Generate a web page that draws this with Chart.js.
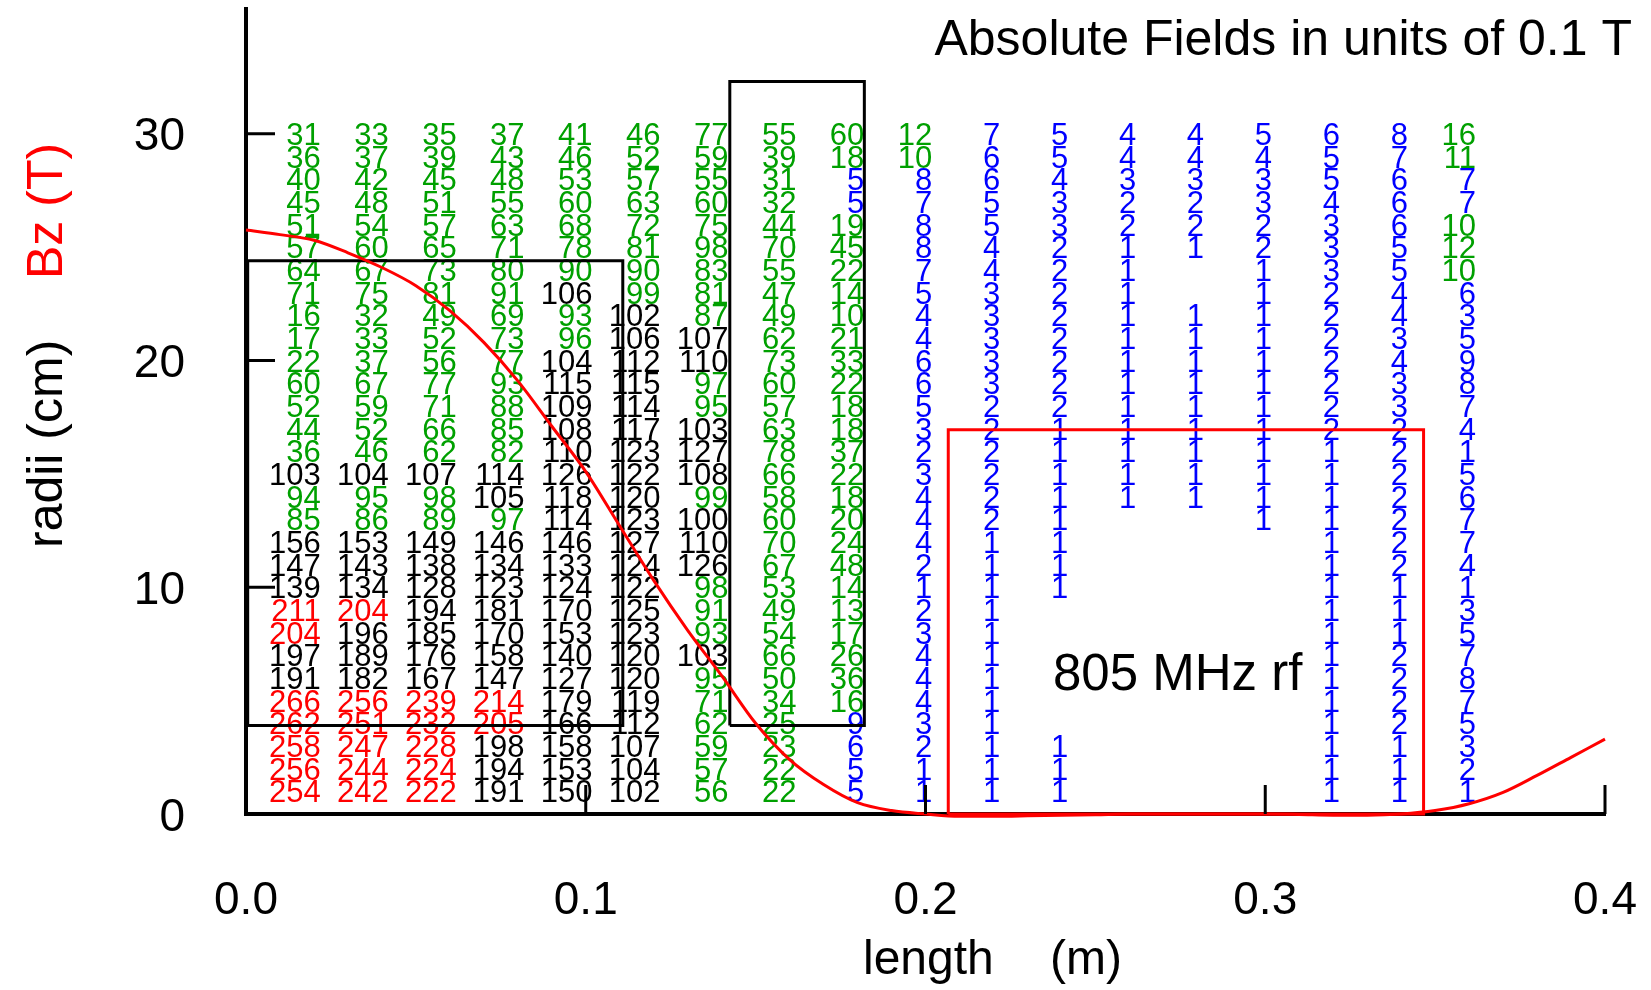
<!DOCTYPE html>
<html>
<head>
<meta charset="utf-8">
<script src="https://cdn.jsdelivr.net/npm/chart.js@4/dist/chart.umd.min.js"></script>
<style>
  html, body { margin: 0; padding: 0; background: #fff; }
  #c { display: block; }
</style>
</head>
<body>
<canvas id="c" width="1651" height="990"></canvas>
<script>
// ---------- data ----------
// length positions (m) at which each column of numbers ends (right edge of text)
const columnLengths = [0.022, 0.042, 0.062, 0.082, 0.102, 0.122, 0.142, 0.162, 0.182,
                       0.202, 0.222, 0.242, 0.262, 0.282, 0.302, 0.322, 0.342, 0.362];
// radii (cm) of each row of numbers
const rowRadii = [30, 29, 28, 27, 26, 25, 24, 23, 22, 21, 20, 19, 18, 17, 16,
                  15, 14, 13, 12, 11, 10, 9, 8, 7, 6, 5, 4, 3, 2, 1];
// absolute field values (units of 0.1 T), one array per row, top (r=30) to bottom (r=1)
const fieldRows = [
  [31,33,35,37,41,46,77,55,60,12,7,5,4,4,5,6,8,16],
  [36,37,39,43,46,52,59,39,18,10,6,5,4,4,4,5,7,11],
  [40,42,45,48,53,57,55,31,5,8,6,4,3,3,3,5,6,7],
  [45,48,51,55,60,63,60,32,5,7,5,3,2,2,3,4,6,7],
  [51,54,57,63,68,72,75,44,19,8,5,3,2,2,2,3,6,10],
  [57,60,65,71,78,81,98,70,45,8,4,2,1,1,2,3,5,12],
  [64,67,73,80,90,90,83,55,22,7,4,2,1,null,1,3,5,10],
  [71,75,81,91,106,99,81,47,14,5,3,2,1,null,1,2,4,6],
  [16,32,49,69,93,102,87,49,10,4,3,2,1,1,1,2,4,3],
  [17,33,52,73,96,106,107,62,21,4,3,2,1,1,1,2,3,5],
  [22,37,56,77,104,112,110,73,33,6,3,2,1,1,1,2,4,9],
  [60,67,77,93,115,115,97,60,22,6,3,2,1,1,1,2,3,8],
  [52,59,71,88,109,114,95,57,18,5,2,2,1,1,1,2,3,7],
  [44,52,66,85,108,117,103,63,18,3,2,1,1,1,1,2,2,4],
  [36,46,62,82,110,123,127,78,37,2,2,1,1,1,1,1,2,1],
  [103,104,107,114,126,122,108,66,22,3,2,1,1,1,1,1,2,5],
  [94,95,98,105,118,120,99,58,18,4,2,1,1,1,1,1,2,6],
  [85,86,89,97,114,123,100,60,20,4,2,1,null,null,1,1,2,7],
  [156,153,149,146,146,127,110,70,24,4,1,1,null,null,null,1,2,7],
  [147,143,138,134,133,124,126,67,48,2,1,1,null,null,null,1,2,4],
  [139,134,128,123,124,122,98,53,14,1,1,1,null,null,null,1,1,1],
  [211,204,194,181,170,125,91,49,13,2,1,null,null,null,null,1,1,3],
  [204,196,185,170,153,123,93,54,17,3,1,null,null,null,null,1,1,5],
  [197,189,176,158,140,120,103,66,26,4,1,null,null,null,null,1,2,7],
  [191,182,167,147,127,120,95,50,36,4,1,null,null,null,null,1,2,8],
  [266,256,239,214,179,119,71,34,16,4,1,null,null,null,null,1,2,7],
  [262,251,232,205,166,112,62,25,9,3,1,null,null,null,null,1,2,5],
  [258,247,228,198,158,107,59,23,6,2,1,1,null,null,null,1,1,3],
  [256,244,224,194,153,104,57,22,5,1,1,1,null,null,null,1,1,2],
  [254,242,222,191,150,102,56,22,5,1,1,1,null,null,null,1,1,1]
];
// on-axis Bz curve (plotted on the radius scale)
const bzLength = [0.00,0.01,0.02,0.03,0.04,0.05,0.06,0.07,0.08,0.09,0.10,0.11,0.12,0.13,0.14,
                  0.15,0.16,0.17,0.18,0.19,0.20,0.21,0.22,0.23,0.24,0.25,0.26,0.27,0.28,0.29,
                  0.30,0.31,0.32,0.33,0.34,0.35,0.36,0.37,0.38,0.39,0.40];
const bzValue  = [25.75,25.55,25.3,24.75,24.1,23.3,22.2,20.8,19.1,17.1,15.1,12.7,10.3,8.1,6.1,
                  4.0,2.4,1.3,0.5,0.15,0.0,-0.1,-0.1,-0.08,-0.05,-0.03,0,0,0,0,
                  0,-0.02,-0.05,-0.05,0.0,0.15,0.45,0.95,1.7,2.5,3.3];
// boxes: [lengthStart, lengthEnd, radiusLow, radiusHigh]
const coilBox1 = [0.0005, 0.1109, 3.9, 24.4];
const coilBox2 = [0.1424, 0.182, 3.9, 32.3];
const rfBox    = [0.2067, 0.3466, 0.0, 16.95];
const xTicks = [0.0, 0.1, 0.2, 0.3, 0.4];
const yTicks = [0, 10, 20, 30];
const titleText = 'Absolute Fields in units of 0.1 T';
const rfText = '805 MHz rf';

// ---------- helpers ----------
function boxPoints(b) {
  return [{x:b[0],y:b[2]},{x:b[0],y:b[3]},{x:b[1],y:b[3]},{x:b[1],y:b[2]},{x:b[0],y:b[2]}];
}
function valueColor(v) {
  if (v >= 200) return '#ff0000';
  if (v >= 100) return '#000000';
  if (v >= 10) return '#00a000';
  return '#0000ff';
}
const FONT = '"Liberation Sans", Arial, sans-serif';

function zeroPad(s) { s.paddingTop = 0; s.paddingBottom = 0; s.paddingLeft = 0; s.paddingRight = 0; }

const annotations = {
  id: 'annotations',
  beforeDatasetsDraw(chart) {
    const ctx = chart.ctx, xs = chart.scales.x, ys = chart.scales.y;
    ctx.save();
    const fs = 31;
    ctx.font = fs + 'px ' + FONT;
    ctx.textAlign = 'right';
    ctx.textBaseline = 'alphabetic';
    fieldRows.forEach((row, i) => {
      const py = ys.getPixelForValue(rowRadii[i]) + fs * 0.36;
      row.forEach((v, j) => {
        if (v === null) return;
        ctx.fillStyle = valueColor(v);
        ctx.fillText(String(v), xs.getPixelForValue(columnLengths[j]), py);
      });
    });
    ctx.restore();
  },
  afterDraw(chart) {
    const ctx = chart.ctx, xs = chart.scales.x, ys = chart.scales.y;
    const area = chart.chartArea;
    ctx.save();
    // inward tick marks
    ctx.strokeStyle = '#000';
    ctx.lineWidth = 3;
    ctx.beginPath();
    xTicks.forEach(t => {
      const px = xs.getPixelForValue(t);
      ctx.moveTo(px, area.bottom);
      ctx.lineTo(px, area.bottom - 29);
    });
    yTicks.forEach(t => {
      const py = ys.getPixelForValue(t);
      ctx.moveTo(area.left, py);
      ctx.lineTo(area.left + 29, py);
    });
    ctx.stroke();
    // title
    ctx.fillStyle = '#000';
    ctx.font = '50px ' + FONT;
    ctx.textAlign = 'right';
    ctx.textBaseline = 'alphabetic';
    ctx.fillText(titleText, 1632, 55);
    // rf label
    ctx.font = '51px ' + FONT;
    ctx.textAlign = 'left';
    ctx.fillText(rfText, 1053, 690);
    // x axis title
    ctx.font = '48px ' + FONT;
    ctx.fillText('length', 863, 974);
    ctx.fillText('(m)', 1050, 974);
    // y axis title (rotated)
    ctx.translate(62, 0);
    ctx.rotate(-Math.PI / 2);
    ctx.font = '50px ' + FONT;
    ctx.textAlign = 'left';
    ctx.fillStyle = '#000';
    ctx.fillText('radii (cm)', -548, 0);
    ctx.fillStyle = '#ff0000';
    ctx.fillText('Bz (T)', -279, 0);
    ctx.restore();
  }
};

new Chart(document.getElementById('c'), {
  type: 'line',
  data: {
    datasets: [
      { label: 'Bz', data: bzLength.map((z, i) => ({x: z, y: bzValue[i]})),
        borderColor: '#ff0000', borderWidth: 3, pointRadius: 0,
        cubicInterpolationMode: 'monotone', fill: false, clip: 20 },
      { label: 'coil1', data: boxPoints(coilBox1), borderColor: '#000', borderWidth: 3,
        pointRadius: 0, tension: 0, fill: false, clip: 20 },
      { label: 'coil2', data: boxPoints(coilBox2), borderColor: '#000', borderWidth: 3,
        pointRadius: 0, tension: 0, fill: false, clip: 20 },
      { label: 'rf', data: boxPoints(rfBox), borderColor: '#ff0000', borderWidth: 3,
        pointRadius: 0, tension: 0, fill: false, clip: 20 }
    ]
  },
  options: {
    responsive: false,
    animation: false,
    devicePixelRatio: 1,
    layout: { autoPadding: false, padding: { top: 9, right: 46, left: 0, bottom: 0 } },
    plugins: { legend: { display: false }, tooltip: { enabled: false } },
    scales: {
      x: {
        type: 'linear', min: 0, max: 0.4,
        afterFit: s => { s.height = 176; zeroPad(s); },
        afterBuildTicks: s => { s.ticks = xTicks.map(v => ({value: v})); },
        grid: { display: false, drawTicks: false },
        border: { display: true, color: '#000', width: 4 },
        ticks: { color: '#000', font: { family: FONT, size: 46 }, padding: 60,
                 maxRotation: 0, autoSkip: false, callback: v => Number(v).toFixed(1) }
      },
      y: {
        type: 'linear', min: 0, max: 35.5,
        afterFit: s => { s.width = 246; zeroPad(s); },
        afterBuildTicks: s => { s.ticks = yTicks.map(v => ({value: v})); },
        grid: { display: false, drawTicks: false },
        border: { display: true, color: '#000', width: 4 },
        ticks: { color: '#000', font: { family: FONT, size: 46 }, padding: 61, labelOffset: 4,
                 autoSkip: false, callback: v => String(v) }
      }
    }
  },
  plugins: [annotations]
});
</script>
</body>
</html>
